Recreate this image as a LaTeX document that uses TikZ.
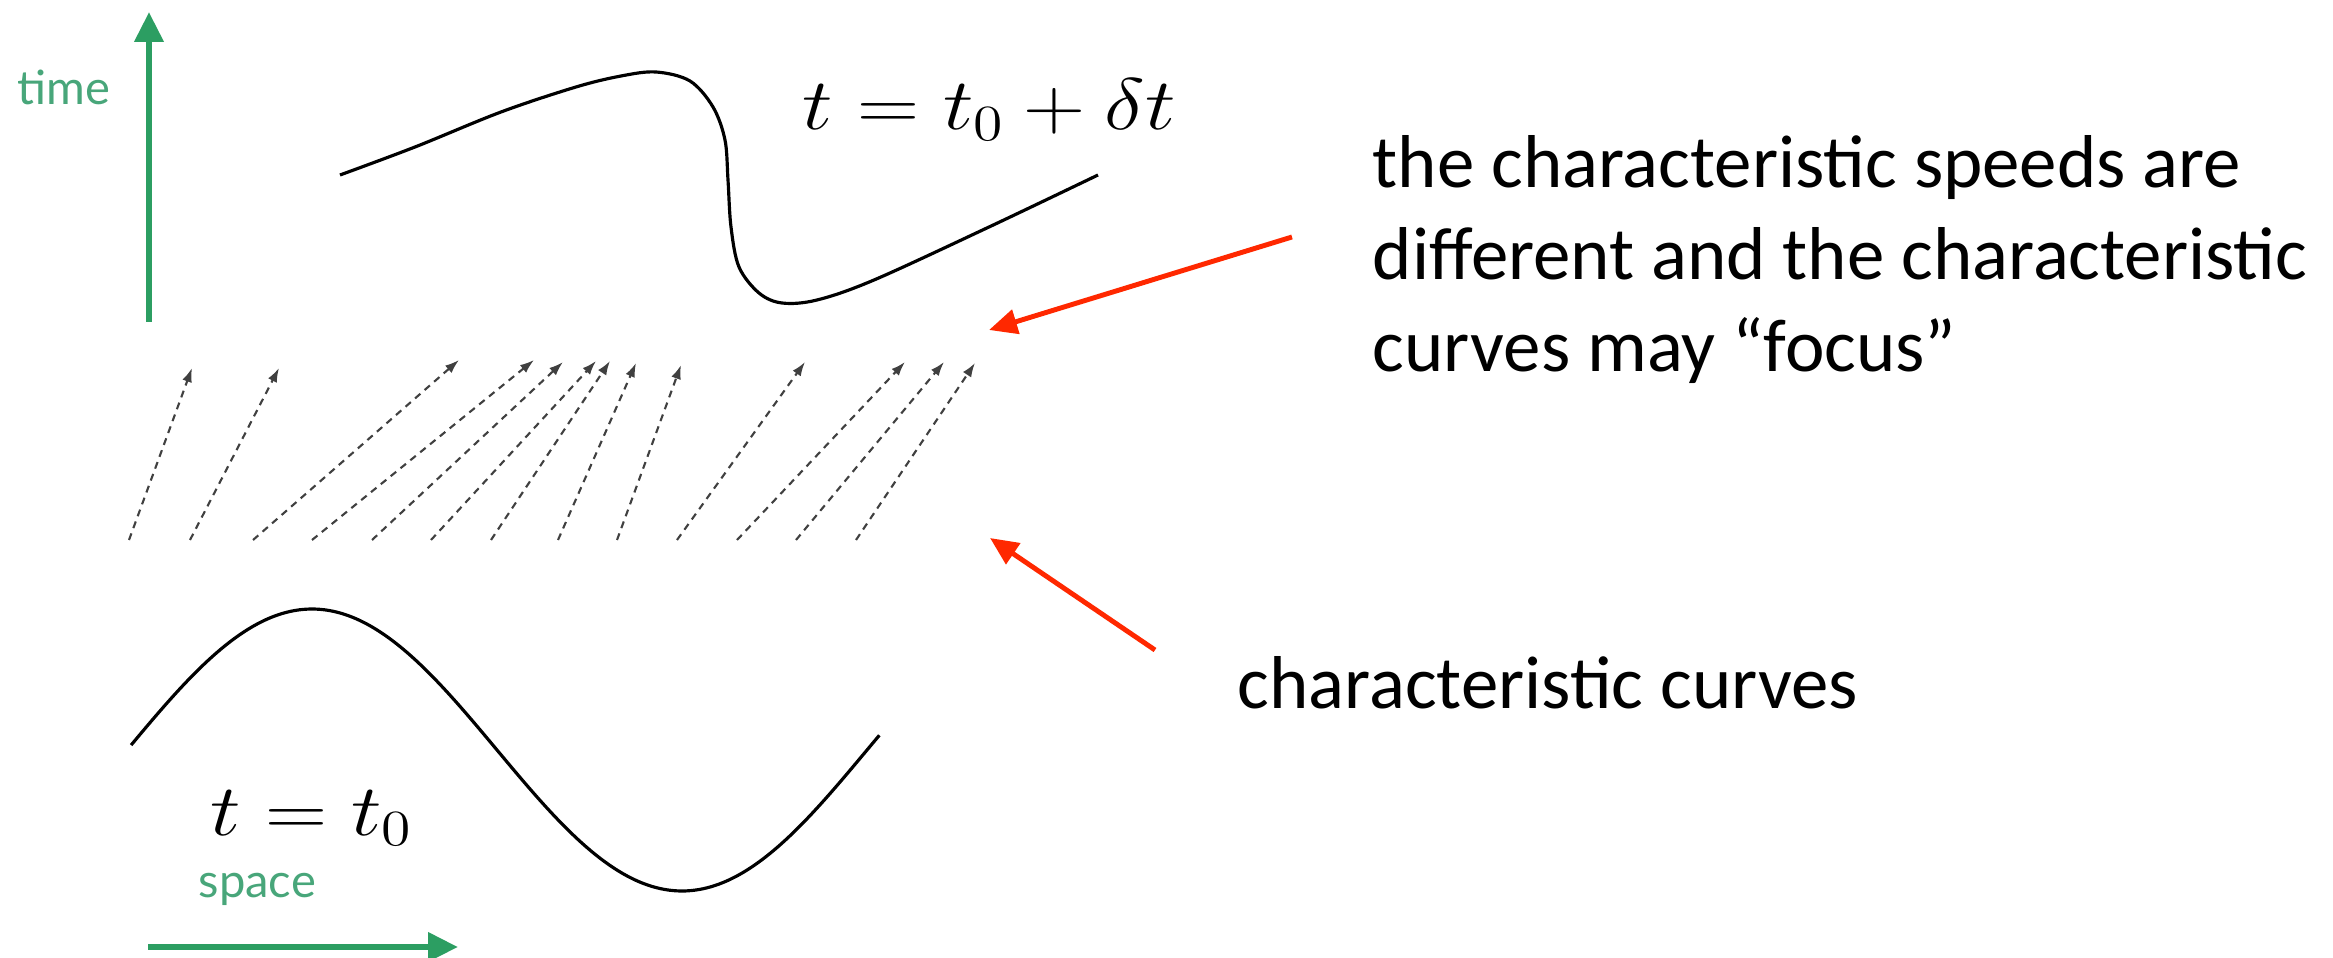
\documentclass[tikz,border=0pt]{standalone}
\usepackage{fontspec}
\setmainfont{Carlito}
\newfontfamily\ejefont{Lato}
\usepackage{xcolor}
\usepackage{tikz}
\usetikzlibrary{arrows.meta,calc,positioning}
\definecolor{verdeeje}{RGB}{44,158,98}
\definecolor{verdetxt}{RGB}{72,166,122}
\definecolor{rojo}{RGB}{255,40,0}
\tikzset{
  eje/.style={-{Triangle[length=8.5pt,width=8pt]},verdeeje,line width=1.8pt},
  etiq/.style={text=verdetxt,font=\ejefont\fontsize{13.4}{15}\selectfont,inner sep=0pt},
  caract/.style={-{Latex[length=4pt,width=2.8pt]},black!75,line width=0.6pt,dash pattern=on 2pt off 1.6pt},
  flecha/.style={-{Triangle[length=8pt,width=7pt]},rojo,line width=1.4pt},
  curva/.style={black,line width=0.9pt},
  mate/.style={inner sep=0pt,font=\fontsize{20}{24}\selectfont,xscale=1.18,transform shape},
  texto/.style={inner sep=0pt,font=\fontsize{21.3}{26}\selectfont}
}
\begin{document}
\begin{tikzpicture}[x=0.01cm,y=-0.01cm]
\useasboundingbox (0,0) rectangle (2333,958);
\coordinate (t0) at (149,322); \coordinate (t1) at (149,12);
\coordinate (s0) at (148,947); \coordinate (s1) at (458,947);
\draw[eje] (t0) -- (t1);
\draw[eje] (s0) -- (s1);
\node[etiq,anchor=base west] (tiempo) at (17,105) {time};
\node[etiq,anchor=base west] (espacio) at (198,897) {space};
\draw[curva] plot[smooth,tension=0.55] coordinates {(340,175) (415,147) (501,112) (576,87) (621,76) (656,72) (690,81) (713,107) (725,140) (728,180) (731,227) (739,267) (759,293) (782,303) (817,300) (874,280) (989,227) (1098,175)};
\draw[curva] plot[domain=2:366,samples=90,smooth] ({127+2.0556*\x},{750-141*sin(\x)});
\node[mate,anchor=base west] (tarriba) at (802,130) {$t=t_0+\delta t$};
\node[mate,anchor=base west] (tabajo) at (210,835) {$t=t_0$};
\foreach \a/\b/\h [count=\i] in {129/192/368,190/279/368,253/459/360,312/534/360,372/563/362,431/596/361,491/610/361,558/636/363,617/681/365,677/805/362,737/905/362,796/944/362,856/975/363}{
  \coordinate (b\i) at (\a,540); \coordinate (c\i) at (\b,\h);
  \draw[caract] (b\i) -- (c\i);
}
\node[texto,anchor=base west] (l1) at (1372,188) {the characteristic speeds are};
\node[texto,anchor=base west] (l2) at (1372,280) {different and the characteristic};
\node[texto,anchor=base west] (l3) at (1372,372) {curves may “focus”};
\node[texto,anchor=base west] (l4) at (1237,708) {characteristic curves};
\coordinate (fa0) at (1292,237); \coordinate (fa1) at (989,330);
\coordinate (fb0) at (1155,650); \coordinate (fb1) at (990,538);
\draw[flecha] (fa0) -- (fa1);
\draw[flecha] (fb0) -- (fb1);
\end{tikzpicture}
\end{document}
